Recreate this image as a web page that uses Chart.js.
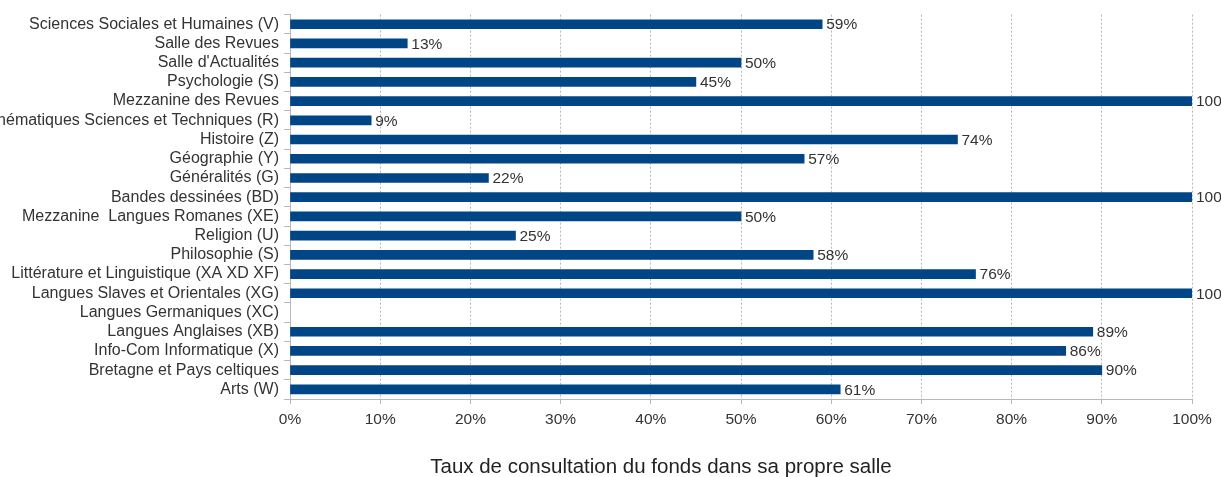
<!DOCTYPE html>
<html>
<head>
<meta charset="utf-8">
<script src="https://cdn.jsdelivr.net/npm/chart.js@4"></script>
<style>
body { margin: 0; background: #fff; }
canvas { display: block; }
</style>
</head>
<body>
<canvas id="chart" width="1221" height="477"></canvas>
<script>
const salles = [
  'Sciences Sociales et Humaines (V)',
  'Salle des Revues',
  "Salle d'Actualités",
  'Psychologie (S)',
  'Mezzanine des Revues',
  'Mathématiques Sciences et Techniques (R)',
  'Histoire (Z)',
  'Géographie (Y)',
  'Généralités (G)',
  'Bandes dessinées (BD)',
  'Mezzanine  Langues Romanes (XE)',
  'Religion (U)',
  'Philosophie (S)',
  'Littérature et Linguistique (XA XD XF)',
  'Langues Slaves et Orientales (XG)',
  'Langues Germaniques (XC)',
  'Langues Anglaises (XB)',
  'Info-Com Informatique (X)',
  'Bretagne et Pays celtiques',
  'Arts (W)'
];
const taux = [59, 13, 50, 45, 100, 9, 74, 57, 22, 100, 50, 25, 58, 76, 100, null, 89, 86, 90, 61];
const xTicks = [0, 10, 20, 30, 40, 50, 60, 70, 80, 90, 100];
const titre = 'Taux de consultation du fonds dans sa propre salle';

const textColor = '#333333';
const gridColor = '#b8b8b8';
const fontFamily = '"Liberation Sans", Arial, sans-serif';

// value labels at the end of each bar
const valueLabels = {
  id: 'valueLabels',
  afterDatasetsDraw(chart) {
    const ctx = chart.ctx;
    const meta = chart.getDatasetMeta(0);
    ctx.save();
    ctx.font = '15.5px ' + fontFamily;
    ctx.fillStyle = textColor;
    ctx.textBaseline = 'middle';
    ctx.textAlign = 'left';
    meta.data.forEach((bar, i) => {
      if (taux[i] == null) return;
      ctx.fillText(taux[i] + '%', bar.x + 4, bar.y + 1);
    });
    ctx.restore();
  }
};

// caption under the axis
const caption = {
  id: 'caption',
  afterDraw(chart) {
    const ctx = chart.ctx;
    ctx.save();
    ctx.font = '20.5px ' + fontFamily;
    ctx.fillStyle = '#222222';
    ctx.textAlign = 'center';
    ctx.textBaseline = 'middle';
    ctx.fillText(titre, 661, 467);
    ctx.restore();
  }
};

new Chart(document.getElementById('chart'), {
  type: 'bar',
  data: {
    labels: salles,
    datasets: [{
      data: taux,
      backgroundColor: '#004586',
      barThickness: 9
    }]
  },
  options: {
    indexAxis: 'y',
    responsive: false,
    animation: false,
    layout: { padding: { top: 14, right: 29, left: 0, bottom: 0 } },
    plugins: {
      legend: { display: false },
      tooltip: { enabled: false }
    },
    scales: {
      x: {
        min: 0,
        max: 100,
        afterFit(scale) { scale.height = 78; },
        afterBuildTicks(scale) { scale.ticks = xTicks.map(v => ({ value: v })); },
        ticks: {
          color: textColor,
          padding: 6,
          font: { family: fontFamily, size: 15.5 },
          callback: v => v + '%'
        },
        grid: { color: gridColor, tickLength: 5 },
        border: { color: gridColor, dash: [2, 2] }
      },
      y: {
        afterFit(scale) { scale.width = 290; },
        ticks: {
          color: textColor,
          padding: 5,
          autoSkip: false,
          font: { family: fontFamily, size: 16 }
        },
        grid: { color: gridColor, drawOnChartArea: false, tickLength: 6 },
        border: { color: gridColor }
      }
    }
  },
  plugins: [valueLabels, caption]
});
</script>
</body>
</html>
